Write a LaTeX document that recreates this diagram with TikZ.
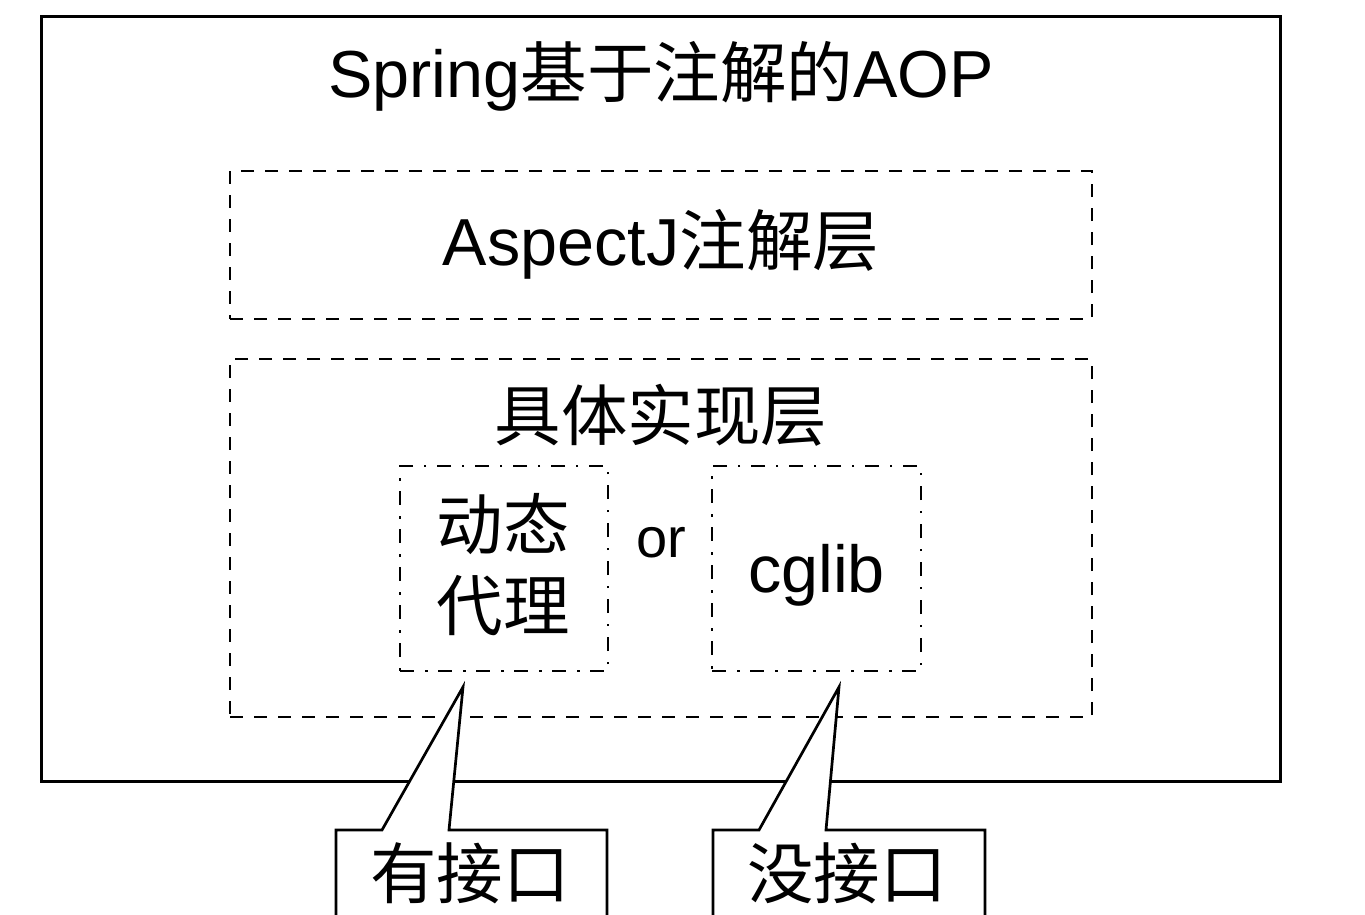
\documentclass[tikz,border=0pt]{standalone}
\usepackage{fontspec}
\setmainfont{Liberation Sans}
\newfontfamily\cjk{Noto Sans CJK SC}
\newcommand{\Cn}[1]{{\cjk #1}}
\begin{document}
\begin{tikzpicture}[x=1pt,y=-1pt,
  outerbox/.style={draw=black, line width=3pt, inner sep=0pt, outer sep=0pt},
  dashbox/.style={draw=black, line width=2.7pt, dash pattern=on 13pt off 11pt, inner sep=0pt, outer sep=0pt},
  dotbox/.style={draw=black, line width=2.7pt, dash pattern=on 14pt off 11pt on 2.5pt off 10.5pt, inner sep=0pt, outer sep=0pt},
  callout/.style={draw=black, fill=white, line width=2.7pt, line join=miter},
  big/.style={font=\fontsize{66.5}{80}\selectfont, inner sep=0pt, anchor=base},
  small/.style={font=\fontsize{56}{66}\selectfont, inner sep=0pt, anchor=base},
]
\useasboundingbox (0,0) rectangle (1365,914);
\clip (0,0) rectangle (1365,914);
\fill[white] (0,0) rectangle (1365,914);

\node[outerbox, minimum width=1239pt, minimum height=765pt] (outer) at (660.5,398.5) {};
\node[dashbox, minimum width=862pt, minimum height=148pt] (ajbox) at (661,245) {};
\node[dashbox, minimum width=862pt, minimum height=358pt] (implbox) at (661,538) {};
\node[dotbox, minimum width=208pt, minimum height=205pt] (dynbox) at (504,568.5) {};
\node[dotbox, minimum width=209pt, minimum height=205pt] (cgbox) at (816.5,568.5) {};

\node[big] (title) at (661,97) {Spring\Cn{基于注解的}AOP};
\node[big] (ajtext) at (661,265) {AspectJ\Cn{注解层}};
\node[big] (impltext) at (661,440) {\Cn{具体实现层}};
\node[big] (dyn1) at (503,549) {\Cn{动态}};
\node[big] (dyn2) at (503,630) {\Cn{代理}};
\node[small] (ortext) at (661,557) {or};
\node[big] (cgtext) at (816.5,592) {cglib};

\coordinate (tipA) at (463,687);
\coordinate (tipB) at (839,687);
\draw[callout] (336,960) -- (336,830) -- (382,830) -- (tipA) -- (449,830) -- (607,830) -- (607,960) -- cycle;
\draw[callout] (713,960) -- (713,830) -- (759,830) -- (tipB) -- (826,830) -- (985,830) -- (985,960) -- cycle;
\node[big] (yes) at (470,898) {\Cn{有接口}};
\node[big] (no) at (847,898) {\Cn{没接口}};
\end{tikzpicture}
\end{document}
